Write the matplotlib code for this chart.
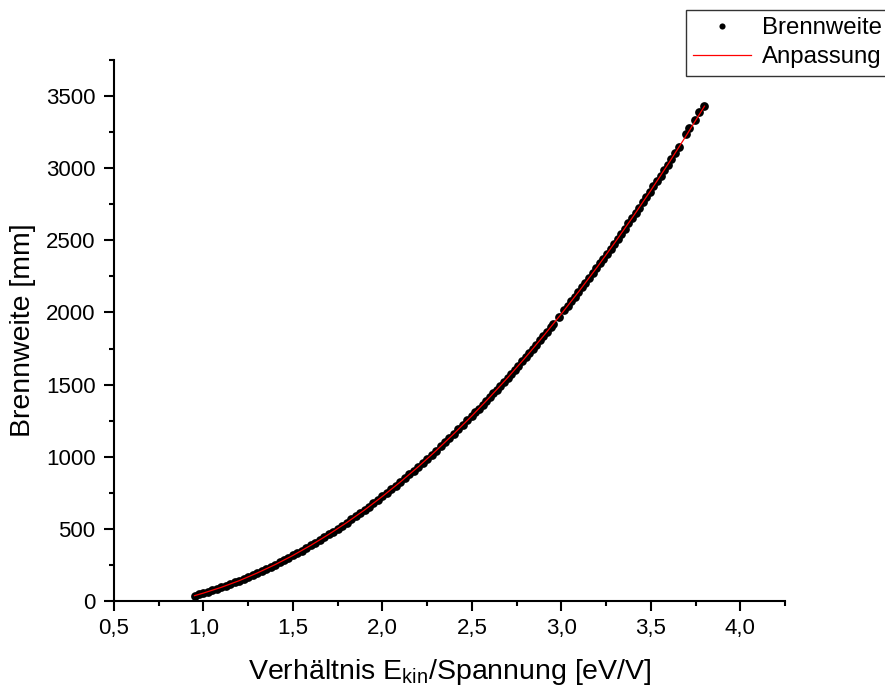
import matplotlib

matplotlib.use("Agg")
import matplotlib.pyplot as plt
from matplotlib.ticker import MultipleLocator, FuncFormatter

plt.rcParams["font.family"] = ["Liberation Sans", "DejaVu Sans"]

# Messpunkte
x_mess = [
    0.952, 0.975, 1.000, 1.025, 1.050, 1.075, 1.100, 1.125, 1.150, 1.175,
    1.200, 1.225, 1.250, 1.275, 1.300, 1.325, 1.350, 1.375, 1.400, 1.425,
    1.450, 1.475, 1.500, 1.525, 1.550, 1.575, 1.600, 1.625, 1.650, 1.675,
    1.700, 1.725, 1.750, 1.775, 1.800, 1.825, 1.850, 1.875, 1.900, 1.925,
    1.950, 1.975, 2.000, 2.025, 2.050, 2.075, 2.100, 2.125, 2.150, 2.175,
    2.200, 2.225, 2.250, 2.275, 2.300, 2.325, 2.350, 2.375, 2.400, 2.425,
    2.450, 2.475, 2.500, 2.520, 2.540, 2.560, 2.580, 2.600, 2.620, 2.640,
    2.660, 2.680, 2.700, 2.720, 2.740, 2.760, 2.780, 2.800, 2.820, 2.840,
    2.860, 2.880, 2.900, 2.920, 2.940, 2.955, 2.985, 3.015, 3.035, 3.055,
    3.075, 3.095, 3.115, 3.135, 3.155, 3.175, 3.195, 3.215, 3.235, 3.255,
    3.275, 3.295, 3.315, 3.335, 3.355, 3.375, 3.395, 3.415, 3.435, 3.455,
    3.475, 3.495, 3.515, 3.535, 3.555, 3.575, 3.595, 3.615, 3.635, 3.655,
    3.695, 3.715, 3.745, 3.770, 3.795,
]
y_mess = [
    38, 46, 55, 65, 74, 85, 95, 106, 118, 129,
    141, 154, 167, 180, 194, 208, 222, 237, 252, 267,
    283, 299, 316, 333, 350, 368, 386, 404, 423, 442,
    462, 481, 502, 522, 543, 565, 587, 609, 631, 654,
    677, 701, 725, 749, 774, 799, 825, 851, 877, 903,
    930, 958, 986, 1014, 1042, 1071, 1100, 1130, 1160, 1190,
    1221, 1252, 1283, 1309, 1334, 1360, 1386, 1413, 1439, 1466,
    1493, 1521, 1548, 1576, 1604, 1632, 1661, 1689, 1718, 1748,
    1777, 1807, 1837, 1867, 1897, 1920, 1967, 2014, 2045, 2077,
    2109, 2141, 2174, 2206, 2239, 2273, 2306, 2340, 2374, 2408,
    2442, 2477, 2512, 2547, 2582, 2618, 2654, 2690, 2726, 2763,
    2799, 2836, 2874, 2911, 2949, 2987, 3025, 3064, 3102, 3150,
    3235, 3280, 3335, 3390, 3430,
]

# Anpassungskurve
x_fit = [0.95, 1.0, 1.1, 1.2, 1.3, 1.4, 1.5, 1.6, 1.7, 1.8, 1.9, 2.0, 2.1, 2.2,
         2.3, 2.4, 2.5, 2.6, 2.7, 2.8, 2.9, 3.0, 3.1, 3.2, 3.3, 3.4, 3.5, 3.6,
         3.7, 3.8]
y_fit = [37, 55, 95, 141, 194, 252, 316, 386, 462, 543, 631, 725, 825, 930,
         1042, 1160, 1283, 1413, 1548, 1689, 1837, 1990, 2149, 2314, 2486, 2663,
         2846, 3035, 3230, 3430]

fig = plt.figure(figsize=(8.85, 6.88), dpi=100)
ax = fig.add_axes([114 / 885, 87 / 688, 671 / 885, 541 / 688])

ax.plot(x_mess, y_mess, "o", color="black", markersize=6.3, markeredgewidth=0,
        label="Brennweite")
ax.plot(x_fit, y_fit, "-", color="#FF0000", linewidth=0.9, label="Anpassung")

ax.set_xlim(0.5, 4.25)
ax.set_ylim(0, 3750)
ax.xaxis.set_major_locator(MultipleLocator(0.5))
ax.xaxis.set_minor_locator(MultipleLocator(0.25))
ax.yaxis.set_major_locator(MultipleLocator(500))
ax.yaxis.set_minor_locator(MultipleLocator(250))
ax.xaxis.set_major_formatter(FuncFormatter(lambda v, p: f"{v:.1f}".replace(".", ",")))
ax.yaxis.set_major_formatter(FuncFormatter(lambda v, p: f"{v:.0f}"))

for s in ["top", "right"]:
    ax.spines[s].set_visible(False)
for s in ["left", "bottom"]:
    ax.spines[s].set_linewidth(1.5)
ax.tick_params(which="major", direction="out", length=7.2, width=1.5, labelsize=16)
ax.tick_params(which="minor", direction="out", length=3.6, width=1.5)
ax.tick_params(axis="y", which="major", pad=6)
ax.tick_params(axis="x", which="major", pad=5)

ax.set_xlabel(r"Verhältnis E$_{\mathregular{kin}}$/Spannung [eV/V]", fontsize=20.5,
              labelpad=13)
ax.set_ylabel("Brennweite [mm]", fontsize=20.5, labelpad=7)

leg = fig.legend(loc="upper left", bbox_to_anchor=(686 / 885, 1 - 10 / 688),
                 fontsize=17.3, frameon=True, fancybox=False, handlelength=2.4,
                 borderpad=0.3, labelspacing=0.3, handletextpad=0.45,
                 markerscale=0.7, borderaxespad=0)
leg.get_frame().set_edgecolor("black")
leg.get_frame().set_linewidth(1.0)

fig.savefig("out.png", dpi=100)
